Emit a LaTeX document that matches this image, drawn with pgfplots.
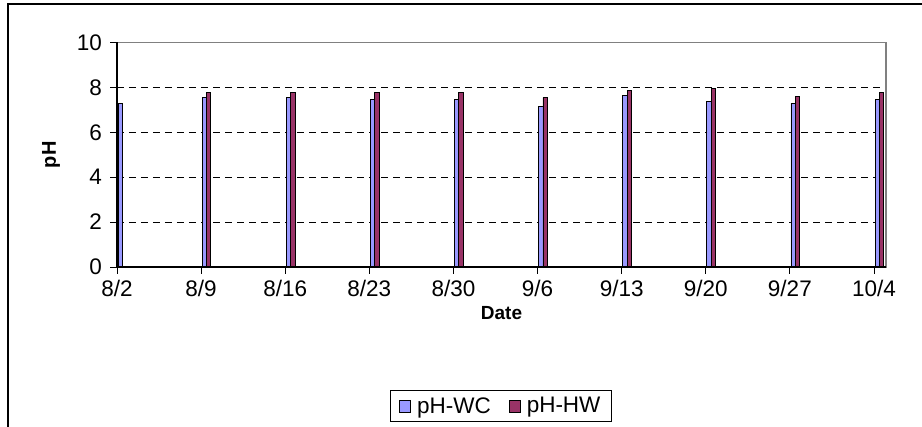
\documentclass[border=0pt]{standalone}
\usepackage{fontspec}
\setmainfont{Liberation Sans}
\usepackage{pgfplots}
\usepackage{pgfplotstable}
\pgfplotsset{compat=1.18}
\definecolor{wc}{HTML}{9999FF}
\definecolor{hw}{HTML}{993366}
\pgfplotstableread{
day ph
0  7.30
7  7.54
14 7.54
21 7.46
28 7.46
35 7.15
42 7.63
49 7.39
56 7.30
63 7.46
}\wcdata
\pgfplotstableread{
day ph
7  7.79
14 7.79
21 7.79
28 7.79
35 7.54
42 7.87
49 7.96
56 7.61
63 7.79
}\hwdata
\begin{document}
\begin{tikzpicture}
\useasboundingbox (-117bp,-160bp) rectangle (805bp,267bp);
\draw[line width=1.3bp] (-109bp,-170bp) -- (-109bp,263bp) -- (815bp,263bp);
\begin{axis}[
  at={(0,0)}, anchor=south west,
  scale only axis, width=769bp, height=224.5bp,
  xmin=0, xmax=64, ymin=0, ymax=10,
  ytick={0,2,...,10}, xtick={0,7,...,63},
  xticklabels={8/2,8/9,8/16,8/23,8/30,9/6,9/13,9/20,9/27,10/4},
  tick align=outside, xtick pos=left, ytick pos=left,
  major tick length=6.5bp,
  tick style={black, line width=0.8bp},
  ymajorgrids,
  grid style={black, dash pattern=on 7bp off 5bp, line width=0.8bp},
  axis line style={draw=gray, line width=1.1bp},
  tick label style={font=\fontsize{22.5bp}{26bp}\selectfont},
  yticklabel style={xshift=-5bp},
  xticklabel style={yshift=-3bp},
  /pgf/number format/assume math mode=true,
  xlabel={\bfseries Date}, ylabel={\bfseries pH},
  xlabel style={font=\fontsize{19bp}{23bp}\selectfont, at={(axis description cs:0.5,-0.2049)}, anchor=center},
  ylabel style={font=\fontsize{20bp}{24bp}\selectfont, at={(axis description cs:-0.0858,0.5)}, anchor=center},
  ybar, bar width=0.36,
  legend columns=2,
  legend style={at={(axis description cs:0.4993,-0.619)}, anchor=center,
    draw=black, line width=1bp, font=\fontsize{22.5bp}{26bp}\selectfont,
    /tikz/every even column/.append style={column sep=16bp},
    inner xsep=9bp, inner ysep=5bp},
  legend image code/.code={\draw[#1, line width=0.8bp] (0bp,-6.5bp) rectangle (11bp,5.5bp); \path (15bp,0bp);},
]
\addplot[fill=wc, draw=black, line width=0.8bp, bar shift=0.27] table[x=day, y=ph] {\wcdata};
\addlegendentry{pH-WC}
\addplot[fill=hw, draw=black, line width=0.8bp, bar shift=0.63] table[x=day, y=ph] {\hwdata};
\addlegendentry{pH-HW}
\end{axis}
\draw[black, line width=1.1bp] (0bp,224.5bp) -- (0bp,0bp) -- (769bp,0bp);
\end{tikzpicture}
\end{document}
